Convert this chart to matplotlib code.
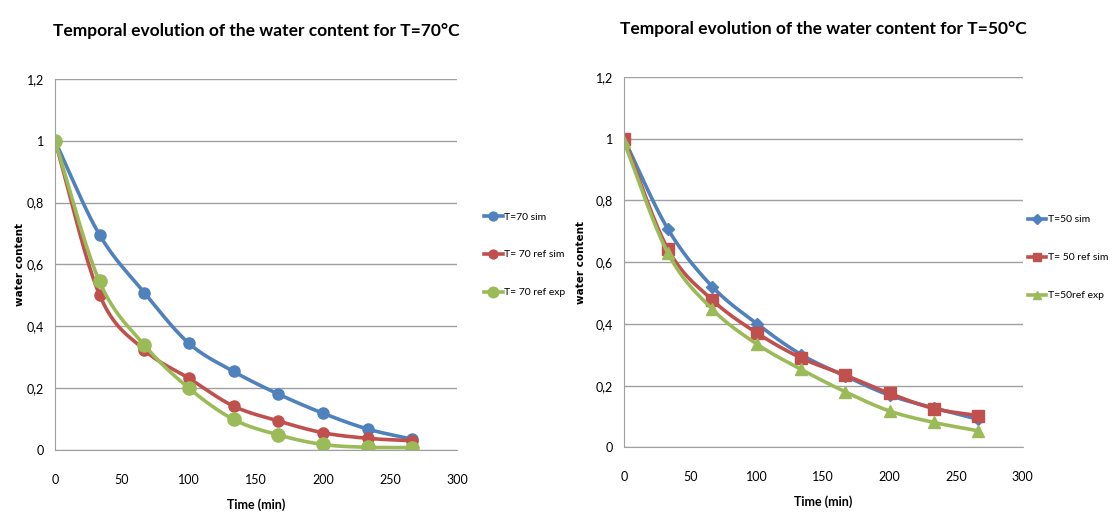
import numpy as np
import matplotlib.pyplot as plt

# temps (min)
t = [0, 33.3, 66.7, 100, 133.3, 166.7, 200, 233.3, 266.7]

# T=70 °C
sim70 = [1.0, 0.696, 0.509, 0.345, 0.254, 0.181, 0.119, 0.068, 0.035]
refsim70 = [1.0, 0.502, 0.324, 0.232, 0.142, 0.094, 0.056, 0.038, 0.030]
refexp70 = [1.0, 0.545, 0.340, 0.200, 0.099, 0.049, 0.018, 0.009, 0.008]

# T=50 °C
sim50 = [1.0, 0.706, 0.520, 0.401, 0.301, 0.231, 0.169, 0.128, 0.091]
refsim50 = [1.0, 0.641, 0.477, 0.371, 0.290, 0.234, 0.175, 0.126, 0.103]
refexp50 = [0.99, 0.628, 0.447, 0.335, 0.253, 0.180, 0.118, 0.081, 0.054]

labels70 = ['T=70 sim', 'T= 70 ref sim', 'T= 70 ref exp']
labels50 = ['T=50 sim', 'T= 50 ref sim', 'T=50ref exp']

BLUE = '#4F81BD'
RED = '#C0504D'
GREEN = '#9BBB59'

FONT = ['Lato', 'DejaVu Sans']


def smooth(x, y, n=20):
    """courbe lissée type Excel (Catmull-Rom) pour l'affichage"""
    x = np.asarray(x, float)
    y = np.asarray(y, float)
    px = np.concatenate([[2 * x[0] - x[1]], x, [2 * x[-1] - x[-2]]])
    py = np.concatenate([[2 * y[0] - y[1]], y, [2 * y[-1] - y[-2]]])
    xs, ys = [], []
    s = np.linspace(0, 1, n, endpoint=False)
    for i in range(1, len(px) - 2):
        for p, out in ((px, xs), (py, ys)):
            p0, p1, p2, p3 = p[i - 1], p[i], p[i + 1], p[i + 2]
            out.extend(0.5 * (2 * p1 + (-p0 + p2) * s
                              + (2 * p0 - 5 * p1 + 4 * p2 - p3) * s ** 2
                              + (-p0 + 3 * p1 - 3 * p2 + p3) * s ** 3))
    xs.append(x[-1])
    ys.append(y[-1])
    return xs, ys


def draw(ax, series, labels, markers, sizes, title, leg_pos, ylab_pad):
    for vals, lab, col, mk, ms in zip(series, labels, [BLUE, RED, GREEN], markers, sizes):
        xs, ys = smooth(t, vals)
        ax.plot(xs, ys, color=col, lw=2.6, solid_capstyle='round')
        ax.plot(t, vals, ls='none', marker=mk, ms=ms, color=col)
        ax.plot([], [], color=col, lw=2.6, marker=mk, ms=ms * 0.8, label=lab)
    ax.set_xlim(0, 300)
    ax.set_ylim(0, 1.2)
    ax.set_xticks(range(0, 301, 50))
    ax.set_yticks(np.arange(0, 1.21, 0.2))
    ax.set_yticklabels(['0', '0,2', '0,4', '0,6', '0,8', '1', '1,2'])
    ax.grid(axis='y', color='#A0A0A0', lw=1)
    ax.set_axisbelow(True)
    for s in ['top', 'right']:
        ax.spines[s].set_visible(False)
    for s in ['left', 'bottom']:
        ax.spines[s].set_color('#A0A0A0')
    ax.tick_params(axis='x', length=0, labelsize=9, pad=17)
    ax.tick_params(axis='y', length=0, labelsize=9, pad=8)
    for lab in ax.get_xticklabels() + ax.get_yticklabels():
        lab.set_family(FONT)
    ax.set_xlabel('Time (min)', family=FONT, fontsize=9, fontweight='bold', labelpad=9)
    ax.set_ylabel('water content', family='DejaVu Sans', fontsize=7.5, fontweight='bold',
                  labelpad=ylab_pad)
    ax.set_title(title, family=FONT, fontsize=12.5, fontweight='bold', pad=31)
    ax.legend(loc='center left', bbox_to_anchor=leg_pos, frameon=False,
              prop={'family': FONT, 'size': 7.5}, labelspacing=2.75,
              handlelength=1.8, handletextpad=0.1, borderpad=0, borderaxespad=0)


fig = plt.figure(figsize=(11.2, 5.12), dpi=100)
ax1 = fig.add_axes([0.049, 0.121, 0.359, 0.725])
ax2 = fig.add_axes([0.557, 0.126, 0.356, 0.724])

draw(ax1, [sim70, refsim70, refexp70], labels70, ['o', 'o', 'o'], [8, 8, 9.5],
     'Temporal evolution of the water content for T=70°C', (1.067, 0.526), 1)
draw(ax2, [sim50, refsim50, refexp50], labels50, ['D', 's', '^'], [6, 8, 8],
     'Temporal evolution of the water content for T=50°C', (1.013, 0.512), 7)

fig.savefig('out.png', dpi=100)
